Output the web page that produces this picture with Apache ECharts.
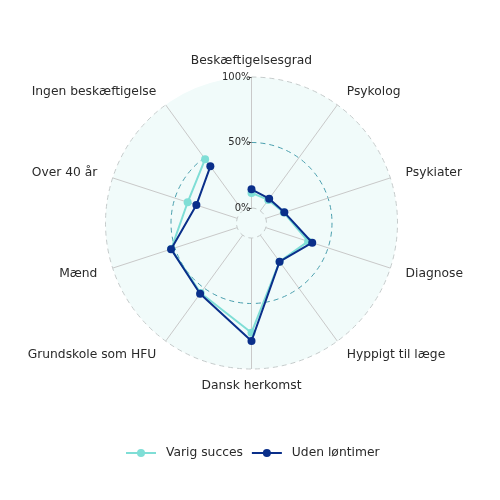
<!DOCTYPE html>
<html>
<head>
<meta charset="utf-8">
<script src="https://cdn.jsdelivr.net/npm/echarts@6/dist/echarts.min.js"></script>
<style>html,body{margin:0;padding:0;background:#fff}#c{width:500px;height:500px}</style>
</head>
<body>
<div id="c"></div>
<script>
const categories = ['Beskæftigelsesgrad','Psykolog','Psykiater','Diagnose','Hyppigt til læge','Dansk herkomst','Grundskole som HFU','Mænd','Over 40 år','Ingen beskæftigelse'];
const varigSucces = [11.5, 10.3, 14.5, 34.0, 25.0, 72.3, 54.6, 53.0, 39.8, 48.8];
const udenLontimer = [14.3, 11.5, 14.9, 37.3, 25.0, 78.6, 55.3, 53.1, 32.8, 42.0];
const radialTicks = [0, 50, 100];

const FONT = 'DejaVu Sans';
const TEAL = '#7fded6';
const NAVY = '#0a2f8a';

function closing(arr) {
  return arr.map((v, i) => (i === 0 || i === arr.length - 1) ? v : '-');
}

function lineSeries(name, data, color, z) {
  return [{
    type: 'line', name: name, coordinateSystem: 'polar', polarIndex: 1,
    data: data, symbol: 'circle', symbolSize: 8, z: z,
    itemStyle: { color: color }, lineStyle: { color: color, width: 2 }
  }, {
    type: 'line', name: name, coordinateSystem: 'polar', polarIndex: 1,
    data: closing(data), connectNulls: true, showSymbol: false, z: z,
    itemStyle: { color: color }, lineStyle: { color: color, width: 2 }
  }];
}

const chart = echarts.init(document.getElementById('c'), null, { renderer: 'canvas' });
chart.setOption({
  animation: false,
  textStyle: { fontFamily: FONT },
  polar: [
    { center: [251.5, 223], radius: [0, 146] },
    { center: [251.5, 223], radius: [15, 146] }
  ],
  angleAxis: [
    { polarIndex: 0, type: 'value', min: 0, max: 360, show: false },
    {
      polarIndex: 1, type: 'category', data: categories, startAngle: 90, clockwise: true,
      boundaryGap: false, z: 1,
      axisLine: { show: false },
      axisTick: { show: false },
      splitLine: { show: true, lineStyle: { color: '#c9c9c9', width: 1 } },
      axisLabel: { fontSize: 12.3, lineHeight: 1, color: '#2a2a2a', margin: 16, fontFamily: FONT }
    }
  ],
  radiusAxis: [
    {
      polarIndex: 0, type: 'value', min: 0, max: 1, interval: 1, z: 0,
      axisLine: { show: false }, axisTick: { show: false }, axisLabel: { show: false },
      splitLine: { show: false },
      splitArea: { show: true, areaStyle: { color: ['#f1fbfa'] } }
    },
    {
      polarIndex: 1, type: 'value', min: radialTicks[0], max: radialTicks[radialTicks.length - 1],
      interval: radialTicks[1] - radialTicks[0], z: 1,
      axisLine: { show: false },
      axisTick: { show: true, length: 3, lineStyle: { color: '#444' } },
      axisLabel: { formatter: '{value}%', fontSize: 10, margin: 1, color: '#2a2a2a', fontFamily: FONT },
      splitLine: { show: true, lineStyle: { type: [5, 4], color: ['#c5cbcb', '#4a9fae', '#c5cbcb'], width: 1 } }
    }
  ],
  legend: {
    data: ['Varig succes', 'Uden løntimer'],
    top: 442, left: 120, itemWidth: 30, itemHeight: 10, itemGap: 8,
    textStyle: { fontSize: 12.3, color: '#2a2a2a', fontFamily: FONT, padding: [0, 0, 0, 5] }
  },
  series: [].concat(
    lineSeries('Varig succes', varigSucces, TEAL, 2),
    lineSeries('Uden løntimer', udenLontimer, NAVY, 3)
  )
});
</script>
</body>
</html>
